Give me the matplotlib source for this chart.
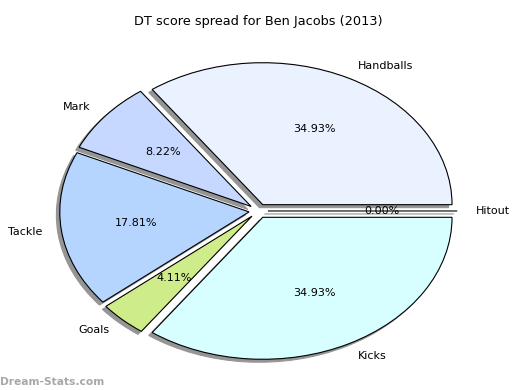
"""
DT score spread pie chart
"""

import matplotlib
matplotlib.use("Agg")
import matplotlib.pyplot as plt

#--------------------------------------------------------------

labels = ['Hitout', 'Handballs', 'Mark', 'Tackle', 'Goals', 'Kicks']
points = [0, 51, 12, 26, 6, 51]
colours = ['#f0f4ff', '#eaf1ff', '#c6d8ff', '#b5d5ff', '#cfec8a', '#d8ffff']
explode = [0.05] * len(points)

#--------------------------------------------------------------

fig = plt.figure(figsize=(5.2, 3.9), dpi=100)
ax = fig.add_axes([0.042, 0.004, 0.91, 0.91])

wedges, texts, autotexts = ax.pie(points, labels=labels, colors=colours,
                                  explode=explode, autopct='%1.2f%%',
                                  shadow={'ox': -0.013, 'oy': -0.015,
                                          'facecolor': '#959595',
                                          'edgecolor': '#959595',
                                          'alpha': 1.0},
                                  startangle=0,
                                  wedgeprops={'edgecolor': 'black',
                                              'linewidth': 0.8},
                                  textprops={'fontsize': 8})
ax.set_aspect('auto')
ax.set_xlim(-1.25, 1.25)
ax.set_ylim(-1.25, 1.25)
ax.set_title('DT score spread for Ben Jacobs (2013)', fontsize=9.3)

fig.text(0.0, 0.008, 'Dream-Stats.com', color='#a8a8a8', fontsize=7.7,
         fontweight='bold', ha='left', va='bottom')

fig.savefig('out.png', dpi=100)
